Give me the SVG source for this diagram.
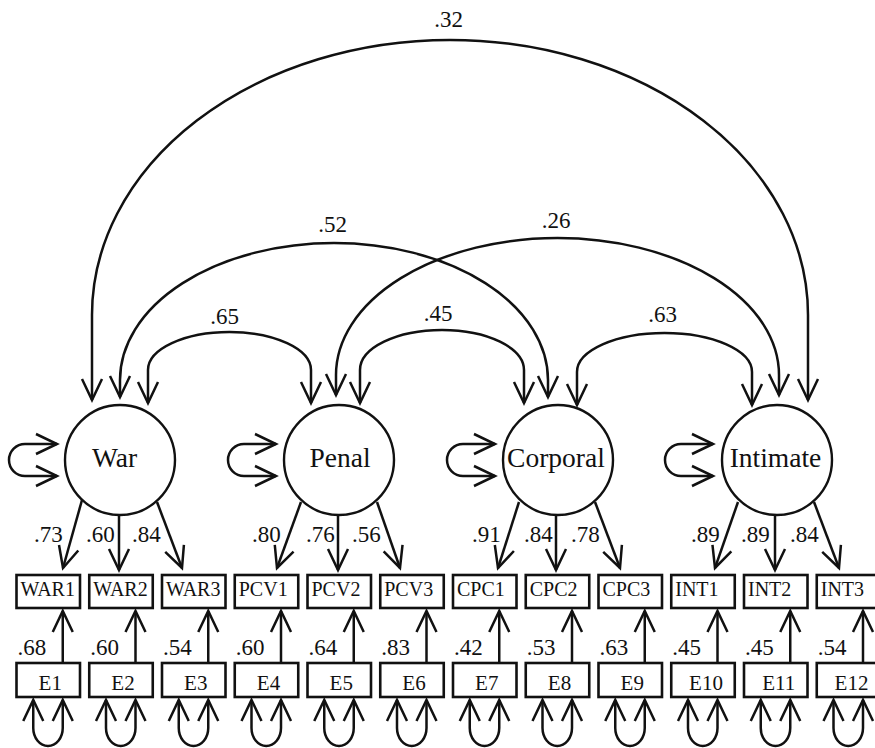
<svg xmlns="http://www.w3.org/2000/svg" width="875" height="748" viewBox="0 0 875 748">
<style>
.ln{fill:none;stroke:#111;stroke-width:2.5}
.bx{fill:#fff;stroke:#111;stroke-width:2.6}
.ci{fill:#fff;stroke:#111;stroke-width:2.4}
.t{font-family:"Liberation Serif","Times New Roman",serif;fill:#111}
.lat{font-size:27.5px;text-anchor:middle}
.var{font-size:20px}
.err{font-size:21px;text-anchor:middle}
.num{font-size:23px}
.numc{font-size:23px;text-anchor:middle}
</style>
<defs>
<marker id="ah" markerUnits="userSpaceOnUse" viewBox="-25 -12 30 24" markerWidth="30" markerHeight="24" refX="0" refY="0" orient="auto-start-reverse" overflow="visible">
<path d="M-21,-10 L0,0 L-21,10" fill="none" stroke="#111" stroke-width="2.5"/>
</marker>
</defs>
<rect width="875" height="748" fill="#fff"/>

<g id="connectors">
<path class="ln" d="M148,403 V370 A81.5 38 0 0 1 311,370 V403" marker-start="url(#ah)" marker-end="url(#ah)"/>
<path class="ln" d="M360,403 V370 A82 40 0 0 1 524,370 V403" marker-start="url(#ah)" marker-end="url(#ah)"/>
<path class="ln" d="M577,405 V372 A87.5 39 0 0 1 752,372 V405" marker-start="url(#ah)" marker-end="url(#ah)"/>
<path class="ln" d="M120,397 V380 A214 137 0 0 1 548,380 V397" marker-start="url(#ah)" marker-end="url(#ah)"/>
<path class="ln" d="M336,395 V375 A221.5 137 0 0 1 779,375 V395" marker-start="url(#ah)" marker-end="url(#ah)"/>
<path class="ln" d="M92,400 V315 A358 275 0 0 1 808,315 V400" marker-start="url(#ah)" marker-end="url(#ah)"/>
<path class="ln" d="M57,444 H25 A16 16 0 0 0 25,476 H57" marker-start="url(#ah)" marker-end="url(#ah)"/>
<path class="ln" d="M276,444 H244 A16 16 0 0 0 244,476 H276" marker-start="url(#ah)" marker-end="url(#ah)"/>
<path class="ln" d="M495,444 H463 A16 16 0 0 0 463,476 H495" marker-start="url(#ah)" marker-end="url(#ah)"/>
<path class="ln" d="M713,444 H681 A16 16 0 0 0 681,476 H713" marker-start="url(#ah)" marker-end="url(#ah)"/>
<path class="ln" d="M82,500 L63,568" marker-end="url(#ah)"/>
<path class="ln" d="M119,515 L119,570" marker-end="url(#ah)"/>
<path class="ln" d="M157,502 L182,568" marker-end="url(#ah)"/>
<path class="ln" d="M301,502 L277,568" marker-end="url(#ah)"/>
<path class="ln" d="M338,515 L338,570" marker-end="url(#ah)"/>
<path class="ln" d="M377,502 L400,568" marker-end="url(#ah)"/>
<path class="ln" d="M519,502 L498,568" marker-end="url(#ah)"/>
<path class="ln" d="M556,515 L556,570" marker-end="url(#ah)"/>
<path class="ln" d="M595,502 L620,568" marker-end="url(#ah)"/>
<path class="ln" d="M738,502 L715,568" marker-end="url(#ah)"/>
<path class="ln" d="M775,515 L775,570" marker-end="url(#ah)"/>
<path class="ln" d="M814,502 L839,568" marker-end="url(#ah)"/>
<path class="ln" d="M62.75,663 V611" marker-end="url(#ah)"/>
<path class="ln" d="M135.5,663 V611" marker-end="url(#ah)"/>
<path class="ln" d="M208.25,663 V611" marker-end="url(#ah)"/>
<path class="ln" d="M281,663 V611" marker-end="url(#ah)"/>
<path class="ln" d="M353.75,663 V611" marker-end="url(#ah)"/>
<path class="ln" d="M426.5,663 V611" marker-end="url(#ah)"/>
<path class="ln" d="M499.25,663 V611" marker-end="url(#ah)"/>
<path class="ln" d="M572,663 V611" marker-end="url(#ah)"/>
<path class="ln" d="M644.75,663 V611" marker-end="url(#ah)"/>
<path class="ln" d="M717.5,663 V611" marker-end="url(#ah)"/>
<path class="ln" d="M790.25,663 V611" marker-end="url(#ah)"/>
<path class="ln" d="M863,663 V611" marker-end="url(#ah)"/>
<path class="ln" d="M33.25,700 V728 A14.75 18 0 0 0 62.75,728 V700" marker-start="url(#ah)" marker-end="url(#ah)"/>
<path class="ln" d="M106,700 V728 A14.75 18 0 0 0 135.5,728 V700" marker-start="url(#ah)" marker-end="url(#ah)"/>
<path class="ln" d="M178.75,700 V728 A14.75 18 0 0 0 208.25,728 V700" marker-start="url(#ah)" marker-end="url(#ah)"/>
<path class="ln" d="M251.5,700 V728 A14.75 18 0 0 0 281,728 V700" marker-start="url(#ah)" marker-end="url(#ah)"/>
<path class="ln" d="M324.25,700 V728 A14.75 18 0 0 0 353.75,728 V700" marker-start="url(#ah)" marker-end="url(#ah)"/>
<path class="ln" d="M397,700 V728 A14.75 18 0 0 0 426.5,728 V700" marker-start="url(#ah)" marker-end="url(#ah)"/>
<path class="ln" d="M469.75,700 V728 A14.75 18 0 0 0 499.25,728 V700" marker-start="url(#ah)" marker-end="url(#ah)"/>
<path class="ln" d="M542.5,700 V728 A14.75 18 0 0 0 572,728 V700" marker-start="url(#ah)" marker-end="url(#ah)"/>
<path class="ln" d="M615.25,700 V728 A14.75 18 0 0 0 644.75,728 V700" marker-start="url(#ah)" marker-end="url(#ah)"/>
<path class="ln" d="M688,700 V728 A14.75 18 0 0 0 717.5,728 V700" marker-start="url(#ah)" marker-end="url(#ah)"/>
<path class="ln" d="M760.75,700 V728 A14.75 18 0 0 0 790.25,728 V700" marker-start="url(#ah)" marker-end="url(#ah)"/>
<path class="ln" d="M833.5,700 V728 A14.75 18 0 0 0 863,728 V700" marker-start="url(#ah)" marker-end="url(#ah)"/>
</g>

<g id="labels">
<text class="t numc" x="224.5" y="324">.65</text>
<text class="t numc" x="438" y="321">.45</text>
<text class="t numc" x="662.5" y="322">.63</text>
<text class="t numc" x="332.5" y="232">.52</text>
<text class="t numc" x="556" y="228">.26</text>
<text class="t numc" x="448.5" y="27">.32</text>
<text class="t num" x="34" y="542">.73</text>
<text class="t num" x="86" y="542">.60</text>
<text class="t num" x="132" y="542">.84</text>
<text class="t num" x="252" y="542">.80</text>
<text class="t num" x="306" y="542">.76</text>
<text class="t num" x="352" y="542">.56</text>
<text class="t num" x="472" y="542">.91</text>
<text class="t num" x="524" y="542">.84</text>
<text class="t num" x="571" y="542">.78</text>
<text class="t num" x="691" y="542">.89</text>
<text class="t num" x="741" y="542">.89</text>
<text class="t num" x="790" y="542">.84</text>
<text class="t num" x="17.5" y="655">.68</text>
<text class="t num" x="90.25" y="655">.60</text>
<text class="t num" x="163" y="655">.54</text>
<text class="t num" x="235.75" y="655">.60</text>
<text class="t num" x="308.5" y="655">.64</text>
<text class="t num" x="381.25" y="655">.83</text>
<text class="t num" x="454" y="655">.42</text>
<text class="t num" x="526.75" y="655">.53</text>
<text class="t num" x="599.5" y="655">.63</text>
<text class="t num" x="672.25" y="655">.45</text>
<text class="t num" x="745" y="655">.45</text>
<text class="t num" x="817.75" y="655">.54</text>
</g>

<g id="War"><circle class="ci" cx="120" cy="460" r="55"/><text class="t lat" x="114.5" y="467">War</text></g>
<g id="Penal"><circle class="ci" cx="339" cy="460" r="55"/><text class="t lat" x="340" y="467">Penal</text></g>
<g id="Corporal"><circle class="ci" cx="558" cy="460" r="55"/><text class="t lat" x="556" y="467">Corporal</text></g>
<g id="Intimate"><circle class="ci" cx="777" cy="460" r="55"/><text class="t lat" x="775.5" y="467">Intimate</text></g>

<g id="WAR1"><rect class="bx" x="16.5" y="575" width="63.5" height="33"/><text class="t var" x="20.5" y="596">WAR1</text></g>
<g id="WAR2"><rect class="bx" x="89.25" y="575" width="63.5" height="33"/><text class="t var" x="93.25" y="596">WAR2</text></g>
<g id="WAR3"><rect class="bx" x="162" y="575" width="63.5" height="33"/><text class="t var" x="166" y="596">WAR3</text></g>
<g id="PCV1"><rect class="bx" x="234.75" y="575" width="63.5" height="33"/><text class="t var" x="238.75" y="596">PCV1</text></g>
<g id="PCV2"><rect class="bx" x="307.5" y="575" width="63.5" height="33"/><text class="t var" x="311.5" y="596">PCV2</text></g>
<g id="PCV3"><rect class="bx" x="380.25" y="575" width="63.5" height="33"/><text class="t var" x="384.25" y="596">PCV3</text></g>
<g id="CPC1"><rect class="bx" x="453" y="575" width="63.5" height="33"/><text class="t var" x="457" y="596">CPC1</text></g>
<g id="CPC2"><rect class="bx" x="525.75" y="575" width="63.5" height="33"/><text class="t var" x="529.75" y="596">CPC2</text></g>
<g id="CPC3"><rect class="bx" x="598.5" y="575" width="63.5" height="33"/><text class="t var" x="602.5" y="596">CPC3</text></g>
<g id="INT1"><rect class="bx" x="671.25" y="575" width="63.5" height="33"/><text class="t var" x="675.25" y="596">INT1</text></g>
<g id="INT2"><rect class="bx" x="744" y="575" width="63.5" height="33"/><text class="t var" x="748" y="596">INT2</text></g>
<g id="INT3"><rect class="bx" x="816.75" y="575" width="63.5" height="33"/><text class="t var" x="820.75" y="596">INT3</text></g>

<g id="E1"><rect class="bx" x="16.5" y="663" width="63.5" height="34"/><text class="t err" x="50.25" y="690">E1</text></g>
<g id="E2"><rect class="bx" x="89.25" y="663" width="63.5" height="34"/><text class="t err" x="123" y="690">E2</text></g>
<g id="E3"><rect class="bx" x="162" y="663" width="63.5" height="34"/><text class="t err" x="195.75" y="690">E3</text></g>
<g id="E4"><rect class="bx" x="234.75" y="663" width="63.5" height="34"/><text class="t err" x="268.5" y="690">E4</text></g>
<g id="E5"><rect class="bx" x="307.5" y="663" width="63.5" height="34"/><text class="t err" x="341.25" y="690">E5</text></g>
<g id="E6"><rect class="bx" x="380.25" y="663" width="63.5" height="34"/><text class="t err" x="414" y="690">E6</text></g>
<g id="E7"><rect class="bx" x="453" y="663" width="63.5" height="34"/><text class="t err" x="486.75" y="690">E7</text></g>
<g id="E8"><rect class="bx" x="525.75" y="663" width="63.5" height="34"/><text class="t err" x="559.5" y="690">E8</text></g>
<g id="E9"><rect class="bx" x="598.5" y="663" width="63.5" height="34"/><text class="t err" x="632.25" y="690">E9</text></g>
<g id="E10"><rect class="bx" x="671.25" y="663" width="63.5" height="34"/><text class="t err" x="706" y="690">E10</text></g>
<g id="E11"><rect class="bx" x="744" y="663" width="63.5" height="34"/><text class="t err" x="778.75" y="690">E11</text></g>
<g id="E12"><rect class="bx" x="816.75" y="663" width="63.5" height="34"/><text class="t err" x="851.5" y="690">E12</text></g>
</svg>
